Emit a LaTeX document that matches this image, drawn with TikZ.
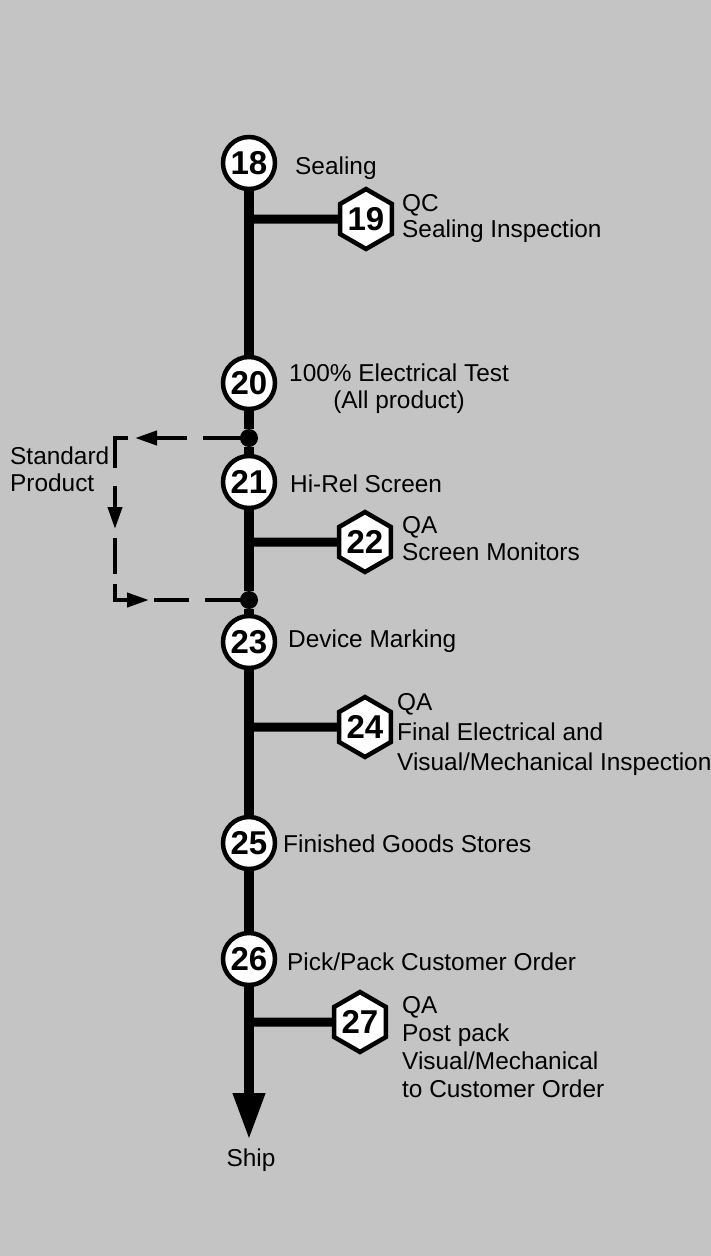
\documentclass[tikz,border=0pt]{standalone}
\usepackage{fontspec}
\setmainfont{Liberation Sans}
\usetikzlibrary{arrows.meta,shapes.geometric,decorations.markings}
\definecolor{bg}{RGB}{196,196,196}
\newcommand\Lstack[1]{\vtop{\halign{##\hfil\cr#1\crcr}}}
\newcommand\Cstack[1]{\vtop{\halign{\hfil##\hfil\cr#1\crcr}}}
\newcommand\numfont{\fontsize{33}{33}\selectfont\bfseries}
\newcommand\lblfont{\fontsize{24.4}{27}\selectfont}
\tikzset{
  stepcircle/.style={circle, draw=black, fill=white, line width=4.5pt,
    minimum size=52pt, inner sep=0pt, font=\numfont},
  qhex/.style={regular polygon, regular polygon sides=6, shape border rotate=30,
    draw=black, fill=white, line width=4.5pt, minimum size=56pt, inner sep=0pt,
    font=\numfont},
  lbl/.style={inner sep=0pt, anchor=base west, font=\lblfont, text=black},
  joint/.style={circle, fill=black, minimum size=18pt, inner sep=0pt},
  mainline/.style={line width=10pt, black},
  branch/.style={line width=9pt, black},
  dashconn/.style={line width=4pt, black, line join=miter,
    dash pattern=on 46pt off 16pt on 30pt off 29pt on 43pt off 18pt on 25pt off 27pt on 36pt off 10pt on 30pt off 25pt on 35pt off 16pt on 46pt,
    postaction={decorate},
    decoration={markings,
      mark=at position 114pt with {\arrow{Triangle[length=22pt,width=14pt]}},
      mark=at position 225pt with {\arrow{Triangle[length=22pt,width=14pt]}},
      mark=at position 330pt with {\arrow{Triangle[length=22pt,width=14pt]}}}},
}
\begin{document}
\begin{tikzpicture}[x=1pt,y=-1pt]
\useasboundingbox (0,0) rectangle (711,1256);
\fill[bg] (0,0) rectangle (711,1256);

% step nodes
\node[stepcircle] (n18) at (249,163) {18};
\node[qhex]       (n19) at (366,219) {19};
\node[stepcircle] (n20) at (249,383) {20};
\node[joint]      (d1)  at (249,438) {};
\node[stepcircle] (n21) at (249,482) {21};
\node[qhex]       (n22) at (365,542) {22};
\node[joint]      (d2)  at (249,600) {};
\node[stepcircle] (n23) at (249,642) {23};
\node[qhex]       (n24) at (365,727) {24};
\node[stepcircle] (n25) at (249,843) {25};
\node[stepcircle] (n26) at (249,959) {26};
\node[qhex]       (n27) at (360,1022) {27};
\coordinate (tip) at (249,1140);
\coordinate (c1) at (115,438);
\coordinate (c2) at (115,600);

% main flow
\draw[mainline] (n18) -- (n20) -- (d1) -- (n21) -- (d2) -- (n23) -- (n25) -- (n26);
\draw[mainline, -{Triangle[length=47pt,width=30pt]}] (n26) -- (tip);

% branches
\draw[branch] (n19 -| n18) -- (n19);
\draw[branch] (n22 -| n21) -- (n22);
\draw[branch] (n24 -| n23) -- (n24);
\draw[branch] (n27 -| n26) -- (n27);

% standard product bypass
\draw[dashconn] (d1.center) -- (c1) -- (c2) -- (d2.center);

% labels
\node[lbl] (t18) at (295,174) {Sealing};
\node[lbl,font=\fontsize{24.4}{26}\selectfont] (t19) at (402,211) {\Lstack{QC\cr Sealing Inspection}};
\node[lbl] (t20) at (289,381) {\Cstack{100\% Electrical Test\cr (All product)}};
\node[lbl] (t21) at (290,492) {Hi-Rel Screen};
\node[lbl] (t22) at (402,533) {\Lstack{QA\cr Screen Monitors}};
\node[lbl] (t23) at (288,647) {Device Marking};
\node[lbl,font=\fontsize{24.4}{30}\selectfont] (t24) at (397,710) {\Lstack{QA\cr Final Electrical and\cr Visual/Mechanical Inspection}};
\node[lbl] (t25) at (283,852) {Finished Goods Stores};
\node[lbl] (t26) at (287,970) {Pick/Pack Customer Order};
\node[lbl,font=\fontsize{24.4}{28}\selectfont] (t27) at (402,1013) {\Lstack{QA\cr Post pack\cr Visual/Mechanical\cr to Customer Order}};
\node[lbl] (tstd) at (10,464) {\Lstack{Standard\cr Product}};
\node[lbl, anchor=base] (tship) at (251,1166) {Ship};
\end{tikzpicture}
\end{document}
